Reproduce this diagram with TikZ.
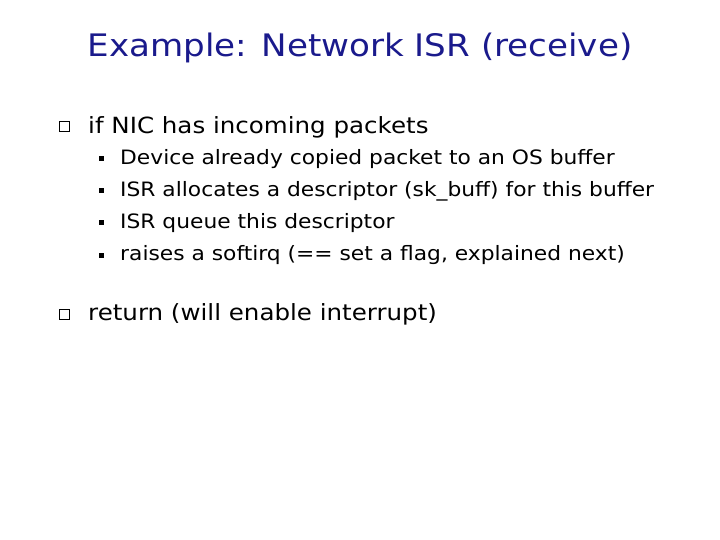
\documentclass[tikz,border=0pt]{standalone}
\usepackage{fontspec}
\setmainfont[FakeStretch=1.1]{DejaVu Sans}
\definecolor{ttl}{RGB}{26,26,140}
\begin{document}
\begin{tikzpicture}[x=1pt,y=-1pt,
  main/.style={anchor=west,inner sep=0pt,font=\fontsize{22.3}{26}\selectfont},
  sub/.style={anchor=west,inner sep=0pt,font=\fontsize{19.8}{22}\selectfont},
  qbox/.style={draw,line width=1pt,minimum size=10pt,inner sep=0pt},
  sbox/.style={fill,minimum size=5pt,inner sep=0pt}]
\useasboundingbox (0,0) rectangle (720,540);
\node[inner sep=0pt,text=ttl,font=\fontsize{31}{36}\selectfont] (title) at (360,48) {Example: Network ISR (receive)};
\node[qbox] (q1) at (64,127) {};
\node[main] (m1) at (88,127) {if NIC has incoming packets};
\node[sbox] (s1) at (101,159) {};
\node[sub] (t1) at (120,159) {Device already copied packet to an OS buffer};
\node[sbox] (s2) at (101,191) {};
\node[sub] (t2) at (120,191) {ISR allocates a descriptor (sk\_buff) for this buffer};
\node[sbox] (s3) at (101,223) {};
\node[sub] (t3) at (120,223) {ISR queue this descriptor};
\node[sbox] (s4) at (101,255) {};
\node[sub] (t4) at (120,255) {raises a softirq (== set a flag, explained next)};
\node[qbox] (q2) at (64,314) {};
\node[main] (m2) at (88,314) {return (will enable interrupt)};
\end{tikzpicture}
\end{document}
